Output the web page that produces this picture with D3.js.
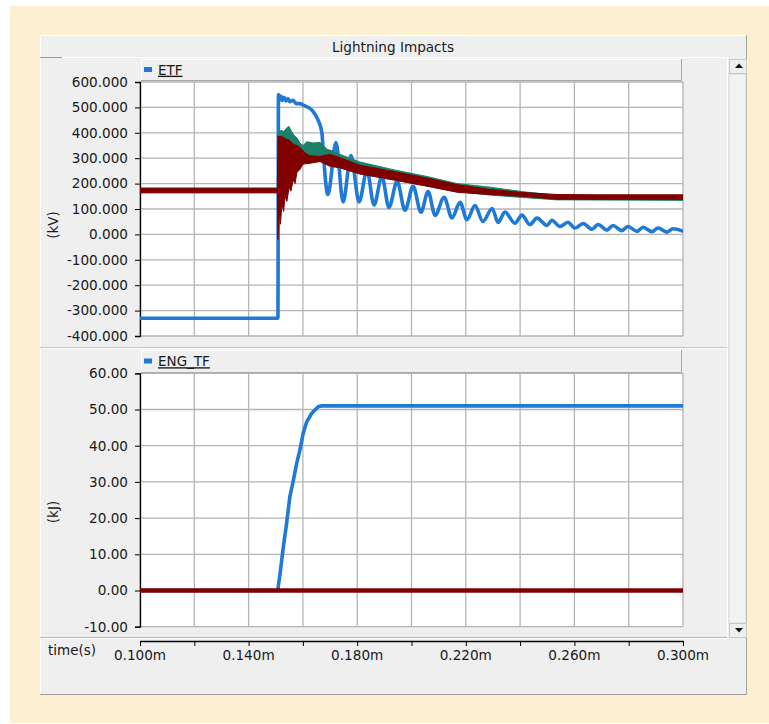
<!DOCTYPE html>
<html>
<head>
<meta charset="utf-8">
<script src="https://cdn.jsdelivr.net/npm/d3@7"></script>
<style>
  html, body { margin: 0; padding: 0; background: #fff; }
  svg { display: block; font-family: "DejaVu Sans", Verdana, sans-serif; }
</style>
</head>
<body>
<svg id="chart" width="769" height="724"></svg>
<script>
// --- data (time in ms, shown as "m") ---
const xTicks = [0.10, 0.12, 0.14, 0.16, 0.18, 0.20, 0.22, 0.24, 0.26, 0.28, 0.30];
const xTickLabels = ["0.100m", "0.140m", "0.180m", "0.220m", "0.260m", "0.300m"];
const xLabelValues = [0.10, 0.14, 0.18, 0.22, 0.26, 0.30];
const etfTicks = [600, 500, 400, 300, 200, 100, 0, -100, -200, -300, -400];
const engTicks = [60, 50, 40, 30, 20, 10, 0, -10];

// ETF, blue trace
const etfBlueT = [0.1000, 0.1508, 0.1510, 0.1514, 0.1519, 0.1525, 0.1530, 0.1538, 0.1545, 0.1552, 0.1564, 0.1575,
  0.1589, 0.1600, 0.1637, 0.1656, 0.1670, 0.1676,
  0.1692, 0.1722, 0.1748, 0.1777, 0.1807, 0.1836, 0.1862, 0.1891, 0.1917, 0.1947, 0.1976, 0.2006, 0.2035, 0.2061,
  0.2087, 0.2120, 0.2149, 0.2179, 0.2204, 0.2234, 0.2263, 0.2297, 0.2319, 0.2344, 0.2381, 0.2407, 0.2436, 0.2462,
  0.2499, 0.2517, 0.2547, 0.2576, 0.2602, 0.2632, 0.2665, 0.2687, 0.2720, 0.2742, 0.2775, 0.2797, 0.2831, 0.2853,
  0.2886, 0.2908, 0.2941, 0.2963, 0.3000];
const etfBlueV = [-330, -330, 551, 528, 545, 527, 540, 525, 535, 522, 528, 515,
  515, 510, 485, 450, 400, 307,
  157, 362, 128, 310, 128, 252, 116, 228, 106, 209, 95, 189, 87, 169,
  75, 146, 65, 126, 58, 114, 51, 102, 47, 88, 44, 76, 39, 64,
  35, 56, 31, 48, 25, 43, 20, 39, 17, 35, 15, 31, 12, 28,
  11, 25, 9, 22, 12];

// ETF, green trace (band low / high)
const etfGreenT = [0.1000, 0.1506, 0.1508, 0.1519, 0.1530, 0.1541, 0.1549, 0.1556, 0.1567, 0.1578, 0.1589, 0.1600,
  0.1615, 0.1637, 0.1663, 0.1689, 0.1711, 0.1737, 0.1810, 0.1932, 0.2057, 0.2168, 0.2289, 0.2411, 0.2536, 0.3000];
const etfGreenLo = [164, 164, 100, 290, 300, 300, 305, 305, 300, 300, 295, 292,
  290, 290, 290, 280, 270, 262, 238, 215, 190, 168, 155, 145, 136, 134];
const etfGreenHi = [182, 182, 395, 410, 405, 420, 425, 410, 390, 380, 360, 350,
  365, 360, 362, 335, 328, 315, 285, 255, 228, 200, 186, 168, 154, 150];

// ETF, maroon trace (band low / high)
const etfRedT = [0.1000, 0.1506, 0.1508, 0.1514, 0.1517, 0.1523, 0.1529, 0.1534, 0.1541, 0.1549,
  0.1556, 0.1564, 0.1571, 0.1578, 0.1589, 0.1600, 0.1608, 0.1626, 0.1663, 0.1700,
  0.1737, 0.1810, 0.1932, 0.2057, 0.2168, 0.2289, 0.2411, 0.2536, 0.2694, 0.3000];
const etfRedLo = [164, 164, -20, 100, 40, 120, 90, 150, 130, 185,
  170, 215, 200, 244, 256, 276, 278, 280, 287, 268,
  262, 238, 215, 190, 166, 157, 150, 138, 138, 138];
const etfRedHi = [182, 182, 386, 385, 385, 384, 382, 378, 374, 372,
  365, 356, 352, 350, 342, 330, 320, 310, 307, 315,
  302, 272, 248, 222, 196, 177, 165, 157, 156, 156];

// ENG_TF, blue and maroon
const engBlueT = [0.1000, 0.1508, 0.1509, 0.1516, 0.1528, 0.1540, 0.1552, 0.1565, 0.1577, 0.1589, 0.1601, 0.1614,
  0.1632, 0.1657, 0.1670, 0.3000];
const engBlueV = [0, 0, 1.0, 4.7, 12.1, 18.6, 25.9, 30.5, 35.1, 38.8, 43.4, 46.6, 48.9, 50.8, 51.0, 51.0];
const engRedT = [0.1000, 0.3000];
const engRedV = [0, 0];

const BLUE = "#1f79d6", GREEN = "#1b8067", MAROON = "#800000";
const GRID = "#b4b4b4", PANEL = "#efefef";

const svg = d3.select("#chart");

// outer frame
svg.append("rect").attr("x", 10).attr("y", 6).attr("width", 759).attr("height", 717).attr("fill", "#fdf0d0");
svg.append("rect").attr("x", 40).attr("y", 35).attr("width", 707).attr("height", 660).attr("fill", PANEL);
svg.append("path").attr("d", "M40.5,695V35.5H747").attr("fill", "none").attr("stroke", "#fff");
svg.append("path").attr("d", "M40,694.5H746.5V35").attr("fill", "none").attr("stroke", "#a0a0a0");

// title bar
svg.append("text").attr("x", 393).attr("y", 47).attr("dy", "0.35em").attr("text-anchor", "middle")
  .attr("font-size", 13.6).attr("fill", "#1a1a1a").text("Lightning Impacts");
svg.append("line").attr("x1", 62).attr("x2", 727).attr("y1", 57.5).attr("y2", 57.5).attr("stroke", "#fff");
svg.append("line").attr("x1", 40).attr("x2", 62).attr("y1", 57.5).attr("y2", 57.5).attr("stroke", "#999");

const x = d3.scaleLinear().domain([0.1, 0.3]).range([140, 683]);
// plain hyphen for negatives, like the original
const fmt = spec => d => d3.format(spec)(d).replace("\u2212", "-");

function legendBar(y0, y1, label) {
  svg.append("rect").attr("x", 141).attr("y", y0).attr("width", 541).attr("height", y1 - y0).attr("fill", PANEL);
  svg.append("path").attr("d", `M141.5,${y1}V${y0 + 0.5}H682`).attr("fill", "none").attr("stroke", "#fff");
  svg.append("path").attr("d", `M141,${y1 - 0.5}H681.5V${y0}`).attr("fill", "none").attr("stroke", "#a8a8a8");
  const cy = (y0 + y1) / 2;
  svg.append("rect").attr("x", 144).attr("y", cy - 3).attr("width", 8).attr("height", 5).attr("fill", BLUE);
  svg.append("text").attr("x", 158).attr("y", cy).attr("dy", "0.35em").attr("font-size", 13.5)
    .attr("fill", "#1a1a1a").attr("text-decoration", "underline").text(label);
}

function plotFrame(y, ticks, tickFmt, unit, unitY) {
  const [r0, r1] = y.range();
  const g = svg.append("g");
  g.append("rect").attr("x", 140).attr("y", r1).attr("width", 543).attr("height", r0 - r1).attr("fill", "#fff");
  g.selectAll(".gy").data(ticks).join("line")
    .attr("x1", 140).attr("x2", 683).attr("y1", d => y(d)).attr("y2", d => y(d))
    .attr("stroke", GRID).attr("stroke-width", 1.3);
  g.selectAll(".gx").data(xTicks).join("line")
    .attr("x1", d => x(d)).attr("x2", d => x(d)).attr("y1", r1).attr("y2", r0)
    .attr("stroke", GRID).attr("stroke-width", 1.3);
  const axis = d3.axisLeft(y).tickValues(ticks).tickSize(5).tickPadding(7).tickFormat(tickFmt);
  const ag = svg.append("g").attr("transform", "translate(140,0)").call(axis);
  ag.select(".domain").attr("stroke", "#000").attr("stroke-width", 1.3);
  ag.selectAll(".tick line").attr("stroke", "#000");
  ag.selectAll(".tick text").attr("font-size", 13.6).attr("fill", "#1a1a1a")
    .attr("font-family", "DejaVu Sans, Verdana, sans-serif");
  svg.append("text").attr("transform", `translate(53,${unitY}) rotate(-90)`).attr("dy", "0.35em")
    .attr("text-anchor", "middle").attr("font-size", 13.5).attr("fill", "#1a1a1a").text(unit);
}

// ---- top plot: ETF ----
const yTop = d3.scaleLinear().domain([-400, 600]).range([336, 82]);
legendBar(59, 81, "ETF");
plotFrame(yTop, etfTicks, fmt(".3f"), "(kV)", 225);

const topClip = svg.append("clipPath").attr("id", "clipTop");
topClip.append("rect").attr("x", 140).attr("y", 82).attr("width", 543).attr("height", 254);
const topG = svg.append("g").attr("clip-path", "url(#clipTop)");

const blueTop = etfBlueT.map((t, i) => [t, etfBlueV[i]]);
topG.append("path").datum(blueTop)
  .attr("d", d3.line().x(d => x(d[0])).y(d => yTop(d[1])).curve(d3.curveMonotoneX))
  .attr("fill", "none").attr("stroke", BLUE).attr("stroke-width", 3.6).attr("stroke-linejoin", "round");

const band = (T, lo, hi) => T.map((t, i) => [t, lo[i], hi[i]]);
const bandArea = d3.area().x(d => x(d[0])).y0(d => yTop(d[1])).y1(d => yTop(d[2]));
topG.append("path").datum(band(etfGreenT, etfGreenLo, etfGreenHi)).attr("d", bandArea)
  .attr("fill", GREEN).attr("stroke", GREEN).attr("stroke-width", 1);
topG.append("path").datum(band(etfRedT, etfRedLo, etfRedHi)).attr("d", bandArea)
  .attr("fill", MAROON).attr("stroke", MAROON).attr("stroke-width", 1);

// plot separator
svg.append("line").attr("x1", 40).attr("x2", 727).attr("y1", 347.5).attr("y2", 347.5).attr("stroke", "#c4c4c4");
svg.append("line").attr("x1", 40).attr("x2", 727).attr("y1", 348.5).attr("y2", 348.5).attr("stroke", "#fff");

// ---- bottom plot: ENG_TF ----
const yBot = d3.scaleLinear().domain([-10, 60]).range([626.7, 373.3]);
legendBar(350, 373, "ENG_TF");
plotFrame(yBot, engTicks, fmt(".2f"), "(kJ)", 512);

const botClip = svg.append("clipPath").attr("id", "clipBot");
botClip.append("rect").attr("x", 140).attr("y", 373).attr("width", 543).attr("height", 254);
const botG = svg.append("g").attr("clip-path", "url(#clipBot)");
const lineBot = d3.line().x(d => x(d[0])).y(d => yBot(d[1]));
botG.append("path").datum(engBlueT.map((t, i) => [t, engBlueV[i]])).attr("d", lineBot)
  .attr("fill", "none").attr("stroke", BLUE).attr("stroke-width", 3.6).attr("stroke-linejoin", "round");
botG.append("path").datum(engRedT.map((t, i) => [t, engRedV[i]])).attr("d", lineBot)
  .attr("fill", "none").attr("stroke", MAROON).attr("stroke-width", 4.5);

// ---- x axis ----
svg.append("line").attr("x1", 40).attr("x2", 727).attr("y1", 637.5).attr("y2", 637.5).attr("stroke", "#b8b8b8");
svg.append("line").attr("x1", 40).attr("x2", 727).attr("y1", 638.5).attr("y2", 638.5).attr("stroke", "#fff");
const xg = svg.append("g").attr("transform", "translate(0,641)")
  .call(d3.axisBottom(x).tickValues(xTicks).tickSize(5).tickSizeOuter(0).tickFormat(""));
xg.select(".domain").attr("stroke", "#000").attr("stroke-width", 1.3);
xg.selectAll(".tick line").attr("stroke", "#000");
svg.selectAll(".xlab").data(xLabelValues).join("text")
  .attr("x", d => x(d)).attr("y", 655).attr("dy", "0.35em").attr("text-anchor", "middle")
  .attr("font-size", 13.6).attr("fill", "#1a1a1a").text((d, i) => xTickLabels[i]);
svg.append("text").attr("x", 48).attr("y", 650).attr("dy", "0.35em").attr("font-size", 13.5)
  .attr("fill", "#1a1a1a").text("time(s)");

// ---- scrollbar ----
svg.append("line").attr("x1", 727.5).attr("x2", 727.5).attr("y1", 57).attr("y2", 638).attr("stroke", "#fff");
svg.append("rect").attr("x", 729).attr("y", 74).attr("width", 17).attr("height", 549).attr("fill", "#f3f3f3")
  .attr("stroke", "#d8d8d8");
[[59, "M735,68H743L739,63.5Z"], [623, "M735,628H743L739,632.5Z"]].forEach(([by, tri]) => {
  svg.append("rect").attr("x", 729.5).attr("y", by + 0.5).attr("width", 17).attr("height", 14)
    .attr("fill", PANEL).attr("stroke", "#c8c8c8");
  svg.append("path").attr("d", tri).attr("fill", "#111");
});
</script>
</body>
</html>
